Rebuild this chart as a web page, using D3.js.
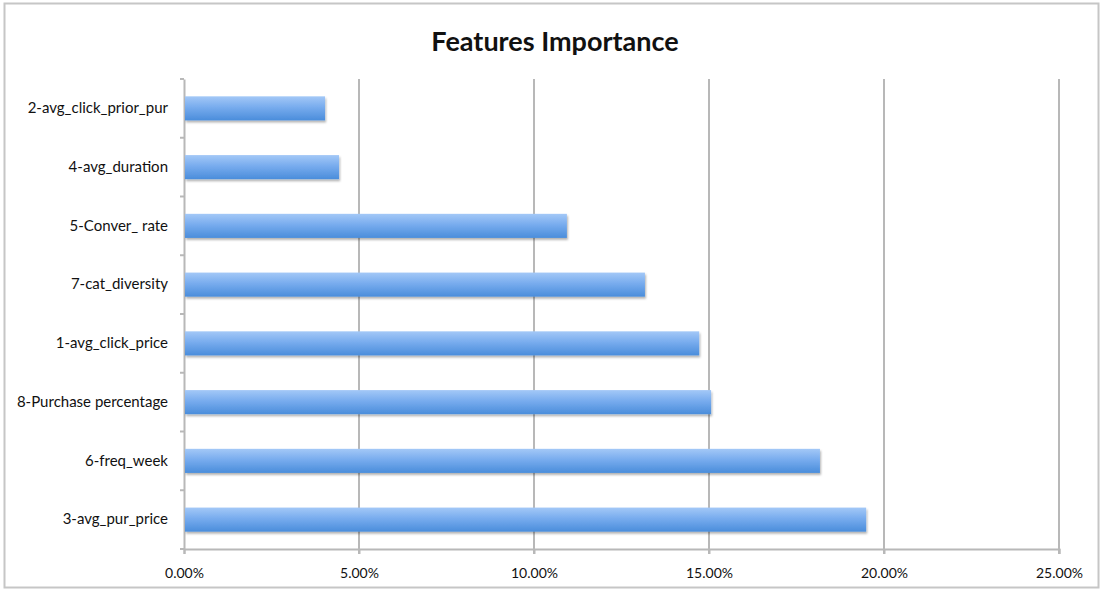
<!DOCTYPE html>
<html>
<head>
<meta charset="utf-8">
<script src="https://cdn.jsdelivr.net/npm/d3@7"></script>
<style>
  body { margin: 0; background: #fff; }
  text { font-family: Lato, "Open Sans", sans-serif; fill: #111; }
</style>
</head>
<body>
<div id="chart"></div>
<script>
// data, top to bottom
var features = ["2-avg_click_prior_pur", "4-avg_duration", "5-Conver_ rate", "7-cat_diversity",
                "1-avg_click_price", "8-Purchase percentage", "6-freq_week", "3-avg_pur_price"]
var importance = [4.03, 4.43, 10.94, 13.17, 14.72, 15.06, 18.17, 19.49]
var xTicks = [0, 5, 10, 15, 20, 25]

var svgWidth = 1102
var svgHeight = 590
var margin = { top: 79, right: 43, bottom: 41, left: 184 }
var chartWidth = svgWidth - margin.left - margin.right
var chartHeight = svgHeight - margin.top - margin.bottom

var svg = d3.select("#chart").append("svg")
    .attr("width", svgWidth)
    .attr("height", svgHeight)

var defs = svg.append("defs")
var grad = defs.append("linearGradient").attr("id", "barGrad")
    .attr("x1", 0).attr("y1", 0).attr("x2", 0).attr("y2", 1)
grad.append("stop").attr("offset", "0%").attr("stop-color", "#a3c8f7")
grad.append("stop").attr("offset", "45%").attr("stop-color", "#78acee")
grad.append("stop").attr("offset", "100%").attr("stop-color", "#4a8ddb")

var shadow = defs.append("filter").attr("id", "shadow")
    .attr("x", "-5%").attr("y", "-20%").attr("width", "110%").attr("height", "160%")
shadow.append("feDropShadow").attr("dx", 1).attr("dy", 2).attr("stdDeviation", 1.2)
    .attr("flood-color", "#000").attr("flood-opacity", 0.3)

// outer frame
svg.append("rect")
    .attr("x", 4.5).attr("y", 3.5)
    .attr("width", 1094).attr("height", 584)
    .attr("fill", "none").attr("stroke", "#c6c6c6").attr("stroke-width", 2)

svg.append("text")
    .attr("x", 555).attr("y", 51)
    .attr("text-anchor", "middle")
    .style("font-size", "27px").style("font-weight", "bold")
    .text("Features Importance")

var chartGroup = svg.append("g")
    .attr("transform", `translate(${margin.left}, ${margin.top})`)

var xScale = d3.scaleLinear().domain([0, 25]).range([0, chartWidth])
var yScale = d3.scaleBand().domain(features).range([0, chartHeight])
    .paddingInner(0.59).paddingOuter(0.295)

// gridlines
chartGroup.selectAll(".grid")
    .data(xTicks.slice(1))
    .enter().append("line")
    .attr("x1", d => xScale(d)).attr("x2", d => xScale(d))
    .attr("y1", 0).attr("y2", chartHeight + 5)
    .attr("stroke", "#b8b8b8").attr("stroke-width", 2)

// bottom axis
var xAxis = d3.axisBottom(xScale).tickValues(xTicks)
    .tickFormat(d => d.toFixed(2) + "%").tickSize(5).tickPadding(14)
var gx = chartGroup.append("g")
    .attr("transform", `translate(0, ${chartHeight})`)
    .call(xAxis)
gx.select(".domain").attr("stroke", "#b8b8b8").attr("stroke-width", 2)
gx.selectAll(".tick line").attr("stroke", "#b8b8b8").attr("stroke-width", 2)
gx.selectAll("text").style("font-size", "14px").attr("fill", "#111")

// left axis with ticks between categories
var yAxis = d3.axisLeft(yScale).tickSize(0).tickPadding(16)
var gy = chartGroup.append("g").call(yAxis)
gy.select(".domain").attr("stroke", "#b8b8b8").attr("stroke-width", 2)
gy.selectAll("text").style("font-size", "15px").attr("fill", "#111")

var step = yScale.step()
chartGroup.selectAll(".ytick")
    .data(d3.range(features.length + 1))
    .enter().append("line")
    .attr("x1", -4).attr("x2", 0)
    .attr("y1", d => d * step).attr("y2", d => d * step)
    .attr("stroke", "#b8b8b8").attr("stroke-width", 2)

// bars
chartGroup.selectAll(".bar")
    .data(features)
    .enter().append("rect")
    .attr("x", 1)
    .attr("y", d => yScale(d))
    .attr("width", (d, i) => xScale(importance[i]) - 1)
    .attr("height", yScale.bandwidth())
    .attr("fill", "url(#barGrad)")
    .attr("filter", "url(#shadow)")
</script>
</body>
</html>
